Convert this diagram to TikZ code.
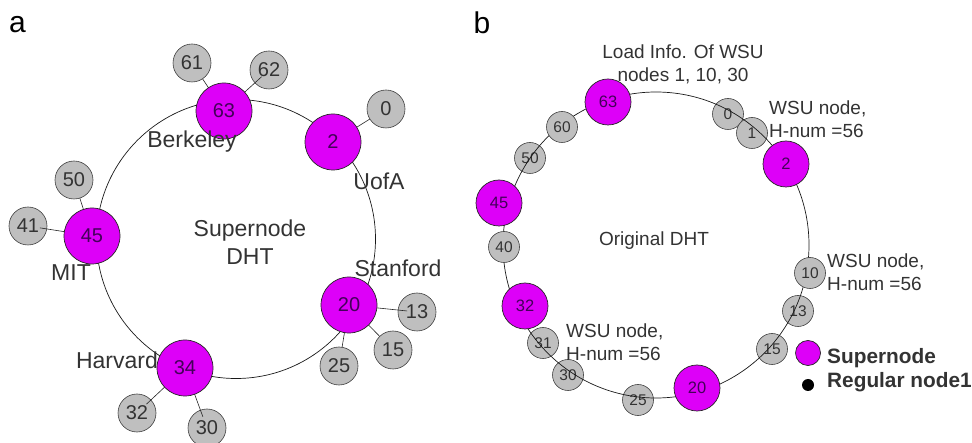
\documentclass[tikz,border=0pt]{standalone}
\usepackage{fontspec}
\setmainfont{Liberation Sans}
\definecolor{mag}{HTML}{DD00F8}
\definecolor{gry}{HTML}{BFBFBF}
\definecolor{txt}{HTML}{333333}
\definecolor{suptxt}{HTML}{44005A}
\begin{document}
\begin{tikzpicture}[x=1pt,y=-1pt,
  supa/.style={circle,draw=black!85,fill=mag,minimum size=56pt,inner sep=0pt,line width=0.7pt,text=suptxt,font=\fontsize{20}{20}\selectfont},
  gra/.style={circle,draw=black!75,fill=gry,minimum size=38pt,inner sep=0pt,line width=0.6pt,text=txt,font=\fontsize{20}{20}\selectfont},
  supb/.style={circle,draw=black!85,fill=mag,minimum size=46pt,inner sep=0pt,line width=0.7pt,text=suptxt,font=\fontsize{16.5}{16.5}\selectfont},
  grb/.style={circle,draw=black!75,fill=gry,minimum size=31pt,inner sep=0pt,line width=0.6pt,text=txt,font=\fontsize{15.5}{15.5}\selectfont},
  laba/.style={text=txt,inner sep=0pt,align=center,font=\fontsize{23}{28}\selectfont},
  labb/.style={text=txt,inner sep=0pt,align=left,font=\fontsize{19}{23}\selectfont},
  leg/.style={text=txt,inner sep=0pt,anchor=west,font=\fontsize{20.8}{20.8}\selectfont\bfseries},
  panel/.style={text=black,inner sep=0pt,font=\fontsize{30}{30}\selectfont},
  ring/.style={draw=black!90,line width=0.7pt},
  link/.style={draw=black!85,line width=0.6pt}]
\useasboundingbox (0,0) rectangle (972,443);

% ---------------- panel a ----------------
\node[panel] (pa) at (17.5,25) {a};
\coordinate (a63) at (224,111);
\coordinate (a2) at (333,142);
\coordinate (a45) at (92,236);
\coordinate (a20) at (349,305);
\coordinate (a34) at (185,368);
\coordinate (a61) at (192,63);
\coordinate (a62) at (269,70);
\coordinate (a0) at (386,109);
\coordinate (a50) at (74,180);
\coordinate (a41) at (28,226);
\coordinate (a13) at (417,312);
\coordinate (a15) at (393,350);
\coordinate (a25) at (339,366);
\coordinate (a32) at (137,413);
\coordinate (a30) at (207,428);
\coordinate (ac) at (236,239);

\draw[ring] (ac) circle[radius=139.5];
\draw[link] (a63) -- (a61);
\draw[link] (a2) -- (a0);
\draw[link] (a45) -- (a50);
\draw[link] (a20) -- (a15);
\draw[link] (a20) -- (a25);

\node[gra] (na61) at (a61) {61};
\node[gra] (na62) at (a62) {62};
\node[gra] (na0) at (a0) {0};
\node[gra] (na50) at (a50) {50};
\node[gra] (na41) at (a41) {41};
\node[gra] (na13) at (a13) {13};
\node[gra] (na15) at (a15) {15};
\node[gra] (na25) at (a25) {25};
\node[gra] (na32) at (a32) {32};
\node[gra] (na30) at (a30) {30};

\draw[link,shorten >=10pt] (a63) -- (na62.center);
\draw[link,shorten >=10pt] (a20) -- (na13.center);
\draw[link,shorten >=12pt] (a45) -- (na41.center);
\draw[link,shorten >=12pt] (a34) -- (na30.center);
\draw[link,shorten >=13pt] (a34) -- (na32.center);

\node[laba] (tharv) at (117,360) {Harvard};

\node[supa] (na63) at (a63) {63};
\node[supa] (na2) at (a2) {2};
\node[supa] (na45) at (a45) {45};
\node[supa] (na20) at (a20) {20};
\node[supa] (na34) at (a34) {34};

\node[laba] (tberk) at (192,142) {Berkeley};
\node[laba] (tuofa) at (379,181) {UofA};
\node[laba] (tdht) at (250,242) {Supernode\\DHT};
\node[laba] (tmit) at (71,273) {MIT};
\node[laba] (tstan) at (398,268) {Stanford};

% ---------------- panel b ----------------
\node[panel] (pb) at (482,23) {b};
\coordinate (bc) at (656,245);
\coordinate (b63) at (608,102);
\coordinate (b2) at (786,164);
\coordinate (b45) at (499,203);
\coordinate (b32) at (525,306);
\coordinate (b20) at (697,388);
\coordinate (b0) at (728,114);
\coordinate (b1) at (752,133);
\coordinate (b60) at (562,127);
\coordinate (b50) at (530,158);
\coordinate (b40) at (504,247);
\coordinate (b31) at (543,343);
\coordinate (b30) at (568,375);
\coordinate (b25) at (638,400);
\coordinate (b15) at (772,349);
\coordinate (b13) at (798,311);
\coordinate (b10) at (810,273);

\node[grb] (nb0) at (b0) {0};
\node[grb] (nb1) at (b1) {1};
\node[grb] (nb50) at (b50) {50};
\node[grb] (nb13) at (b13) {13};
\node[grb] (nb15) at (b15) {15};
\node[grb] (nb31) at (b31) {31};
\node[grb] (nb30) at (b30) {30};
\node[grb] (nb25) at (b25) {25};

\draw[ring] (bc) circle[radius=153];

\node[grb] (nb60) at (b60) {60};
\node[grb] (nb40) at (b40) {40};
\node[grb] (nb10) at (b10) {10};

\node[supb] (nb63) at (b63) {63};
\node[supb] (nb2) at (b2) {2};
\node[supb] (nb45) at (b45) {45};
\node[supb] (nb32) at (b32) {32};
\node[supb] (nb20) at (b20) {20};

\node[labb,align=center] (tload) at (683,64.5) {Load Info. Of WSU\\nodes 1, 10, 30};
\node[labb,anchor=west] (tw1) at (769,119.5) {WSU node,\\H-num =56};
\node[labb,anchor=west] (tw2) at (827,272.5) {WSU node,\\H-num =56};
\node[labb,anchor=west] (tw3) at (566,342) {WSU node,\\H-num =56};
\node[labb,align=center] (torig) at (654,241) {Original DHT};

% legend
\node[circle,draw=black!85,fill=mag,minimum size=25pt,inner sep=0pt,line width=0.7pt] (lsup) at (808,353) {};
\node[circle,fill=black,minimum size=12pt,inner sep=0pt] (lreg) at (808,385) {};
\node[leg] (tsup) at (827,358) {Supernode};
\node[leg] (treg) at (827,382) {Regular node1};
\end{tikzpicture}
\end{document}
